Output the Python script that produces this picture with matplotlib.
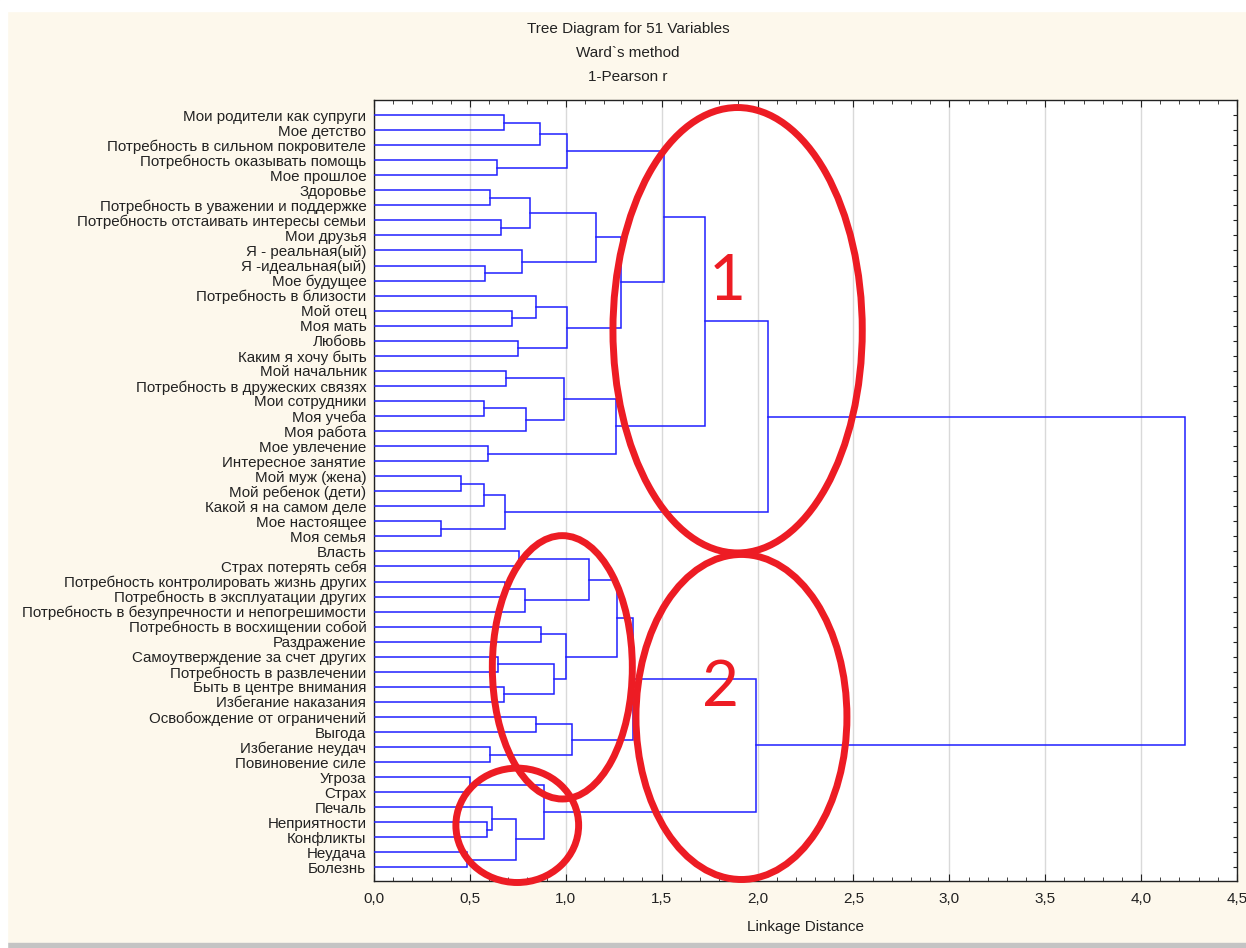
import matplotlib
matplotlib.use('Agg')
import matplotlib.pyplot as plt
from matplotlib.patches import Ellipse, Rectangle
from matplotlib.ticker import MultipleLocator, FuncFormatter

labels = [
    'Мои родители как супруги', 'Мое детство', 'Потребность в сильном покровителе',
    'Потребность оказывать помощь', 'Мое прошлое', 'Здоровье',
    'Потребность в уважении и поддержке', 'Потребность отстаивать интересы семьи',
    'Мои друзья', 'Я - реальная(ый)', 'Я -идеальная(ый)', 'Мое будущее',
    'Потребность в близости', 'Мой отец', 'Моя мать', 'Любовь', 'Каким я хочу быть',
    'Мой начальник', 'Потребность в дружеских связях', 'Мои сотрудники', 'Моя учеба',
    'Моя работа', 'Мое увлечение', 'Интересное занятие', 'Мой муж (жена)',
    'Мой ребенок (дети)', 'Какой я на самом деле', 'Мое настоящее', 'Моя семья',
    'Власть', 'Страх потерять себя', 'Потребность контролировать жизнь других',
    'Потребность в эксплуатации других', 'Потребность в безупречности и непогрешимости',
    'Потребность в восхищении собой', 'Раздражение', 'Самоутверждение за счет других',
    'Потребность в развлечении', 'Быть в центре внимания', 'Избегание наказания',
    'Освобождение от ограничений', 'Выгода', 'Избегание неудач', 'Повиновение силе',
    'Угроза', 'Страх', 'Печаль', 'Неприятности', 'Конфликты', 'Неудача', 'Болезнь',
]

# merges: children are leaf indices 0..50, or 51+k for the k-th merge
merge_left = [0, 51, 3, 52, 5, 7, 55, 10, 9, 57,
              13, 12, 15, 62, 60, 54, 17, 19, 68, 67,
              22, 70, 66, 24, 74, 27, 75, 73, 29, 31,
              80, 79, 34, 36, 38, 84, 83, 82, 40, 42,
              89, 88, 44, 47, 46, 49, 95, 93, 92, 78]
merge_right = [1, 2, 4, 53, 6, 8, 56, 11, 58, 59,
               14, 61, 16, 63, 64, 65, 18, 20, 21, 69,
               23, 71, 72, 25, 26, 28, 76, 77, 30, 32,
               33, 81, 35, 37, 39, 85, 86, 87, 41, 43,
               90, 91, 45, 48, 94, 50, 96, 97, 98, 99]
merge_height = [0.679, 0.864, 0.639, 1.006, 0.606, 0.663, 0.815, 0.581, 0.774, 1.158,
                0.719, 0.846, 0.750, 1.006, 1.288, 1.514, 0.688, 0.574, 0.790, 0.989,
                0.592, 1.262, 1.724, 0.454, 0.574, 0.350, 0.684, 2.052, 0.757, 0.684,
                0.789, 1.120, 0.870, 0.645, 0.676, 0.940, 1.000, 1.267, 0.846, 0.606,
                1.035, 1.351, 0.501, 0.590, 0.614, 0.484, 0.742, 0.884, 1.990, 4.227]

xticks = [0.0, 0.5, 1.0, 1.5, 2.0, 2.5, 3.0, 3.5, 4.0, 4.5]
title_lines = ['Tree Diagram for 51 Variables', 'Ward`s method', '1-Pearson r']

n = len(labels)
merges = list(zip(merge_left, merge_right, merge_height))

cream = '#fdf8ec'
blue = '#1f1fff'
red = '#ed1c24'

plt.rcParams['font.family'] = ['Liberation Sans', 'DejaVu Sans']

fig = plt.figure(figsize=(12.46, 9.48), dpi=100, facecolor=cream)
fig.patches.append(Rectangle((0, 0), 1, 5 / 948, transform=fig.transFigure,
                             color='#c4c4c4', zorder=-1))
fig.patches.append(Rectangle((0, 1 - 11 / 948), 1, 11 / 948, transform=fig.transFigure,
                             color='white', zorder=-1))
fig.patches.append(Rectangle((0, 0), 7 / 1246, 1, transform=fig.transFigure,
                             color='white', zorder=-1))

ax = fig.add_axes([374 / 1246, 67 / 948, 863 / 1246, 781 / 948])
ax.set_facecolor('white')

# node positions: x = height, y = leaf order position
xs = [0.0] * n
ys = [i + 1 for i in range(n)]
for a, b, h in merges:
    ax.plot([xs[a], h, h, xs[b]], [ys[a], ys[a], ys[b], ys[b]],
            color=blue, lw=1.1, solid_joinstyle='miter', zorder=3)
    xs.append(h)
    ys.append((ys[a] + ys[b]) / 2)

ax.set_xlim(0, 4.5)
ax.set_ylim(51.9, 0)
ax.set_xticks(xticks)
ax.xaxis.set_major_formatter(FuncFormatter(lambda v, p: f'{v:.1f}'.replace('.', ',')))
ax.xaxis.set_minor_locator(MultipleLocator(0.1))
ax.tick_params(axis='x', which='both', direction='in', top=True, bottom=True,
               labelsize=11, pad=8, colors='#222222')
ax.tick_params(axis='x', which='major', length=5)
ax.tick_params(axis='x', which='minor', length=3)
ax.set_yticks(range(1, n + 1))
ax.set_yticklabels(labels)
ax.tick_params(axis='y', direction='in', left=False, right=True, labelleft=True,
               length=3, labelsize=10.9, pad=5.5, colors='#222222')
ax.grid(axis='x', which='major', color='#d9d9d9', lw=1)
ax.set_axisbelow(True)
for s in ax.spines.values():
    s.set_color('#222222')
    s.set_linewidth(1)

ax.set_xlabel('Linkage Distance', fontsize=11, labelpad=10, color='#222222')

for i, t in enumerate(title_lines):
    fig.text(628 / 1246, 1 - (29 + 24 * i) / 948, t, ha='center', va='center',
             fontsize=11, color='#222222')

# hand-drawn red annotations
ellipses = [(1.896, 15.3, 1.30, 29.6), (1.916, 41.0, 1.10, 21.6),
            (0.982, 37.7, 0.73, 17.5), (0.747, 48.2, 0.64, 7.6)]
for cx, cy, w, h in ellipses:
    ax.add_patch(Ellipse((cx, cy), w, h, fill=False, ec=red, lw=5, clip_on=False, zorder=5))
ax.text(1.843, 12.1, '1', color=red, fontsize=46, fontfamily='Lato',
        ha='center', va='center', zorder=6)
ax.text(1.806, 39.1, '2', color=red, fontsize=46, fontfamily='Lato',
        ha='center', va='center', zorder=6)

fig.savefig('out.png', dpi=100, facecolor=cream)
